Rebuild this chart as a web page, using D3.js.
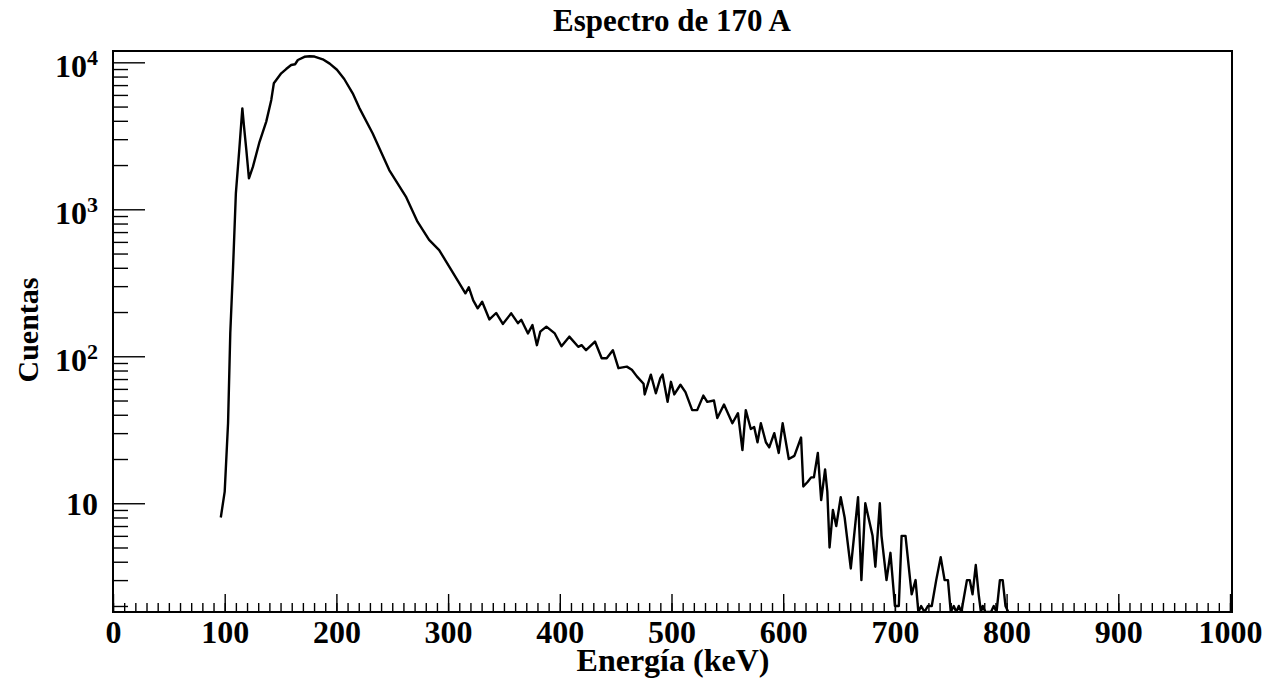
<!DOCTYPE html>
<html>
<head>
<meta charset="utf-8">
<script src="https://cdn.jsdelivr.net/npm/d3@7"></script>
<style>
  html, body { margin: 0; padding: 0; background: #fff; }
  svg { display: block; }
  text { font-family: "Liberation Serif", "Times New Roman", serif; font-weight: bold; fill: #000; }
</style>
</head>
<body>
<svg id="chart" width="1279" height="683"></svg>
<script>
// Energy spectrum, 170 A run: bin centres (keV) and counts per bin
const energy = [
  96.5, 100, 103, 105, 107.5, 110, 113, 115.8, 117.3, 119.4, 121.7, 125.3, 131.2, 137.2, 141.7, 144,
  150.6, 155, 159.5, 163, 165.5, 171.4, 176, 180.4, 187.8, 194, 200.5, 207, 214.6, 220.5, 232.4,
  247.3, 262.2, 272.6, 283, 292, 301, 310, 315.5, 318.5, 322.5, 326.5, 330.5, 337, 343, 349,
  356.5, 362.5, 365.5, 371.5, 375.5, 379.5, 382.5, 388, 395.5, 401.5, 408.5, 416.5, 419.5, 423.5,
  431.5, 437.5, 442, 447.5, 452.5, 460, 464.5, 469, 475, 476, 481.5, 486, 490, 492, 496.5, 499.5,
  502.5, 508, 512.5, 518.5, 523, 528.5, 532, 538, 541, 547, 554.5, 559.5, 563.5, 566.5, 571, 574,
  577, 580, 584.5, 587.5, 592, 596, 599.5, 605, 610, 616, 618, 622, 625, 627.5, 631, 634, 637.5,
  639.5, 641.5, 644.5, 647.5, 651.5, 655, 660.5, 667, 670, 673.5, 680, 682.5, 686.5, 688, 692.5,
  696, 700, 703.5, 706, 709.5, 715, 718.5, 721, 723.5, 726.5, 729.5, 733, 737, 741, 744.5, 747.5,
  750, 752.7, 755, 757.2, 759.5, 764.5, 767, 769.5, 772.4, 775, 777, 778.7, 781, 786, 788.5, 791,
  794, 796.5, 799, 801.5
];
const counts = [
  8, 12, 35, 144, 405, 1285, 2520, 4860, 3650, 2520, 1625, 1950, 2880, 3950, 5550, 7200,
  8420, 9000, 9590, 9700, 10370, 10900, 11000, 10950, 10480, 9800, 8900, 7700, 6150, 4900, 3290,
  1850, 1220, 824, 619, 528, 407, 314, 268, 295, 240, 212, 235, 178, 197, 166,
  196, 168, 177, 143, 163, 119, 147, 159, 143, 117, 136, 116, 119, 110,
  126, 97, 97, 110, 83, 85, 81, 73, 65, 55, 75, 56, 71, 75, 49, 67,
  55, 64, 57, 43, 43, 54, 49, 50, 38, 47, 35, 41, 23, 43, 32, 33,
  26, 35, 26, 24, 30, 22, 35, 20, 21, 28, 13, 14, 15, 15, 22, 10.5, 17,
  12, 5, 9, 7, 11, 8, 3.6, 11, 3, 10, 6, 3.7, 10, 6, 3,
  4.6, 2, 2, 6, 6, 2.4, 3, 0, 2, 0, 2, 2, 3, 4.3, 3, 3,
  0, 2, 0, 2, 0, 3, 3, 2.4, 3.8, 2.4, 0, 2, 0, 0, 2, 0,
  3, 3, 2, 0
];

// Axis ticks
const xMajorTicks = [0, 100, 200, 300, 400, 500, 600, 700, 800, 900, 1000];
const xMinorTicks = d3.range(0, 1001, 10);
const yMajorTicks = [10, 100, 1000, 10000];
const yMajorLabels = [["10", ""], ["10", "2"], ["10", "3"], ["10", "4"]];
const yMinorTicks = [2, 3, 4, 5, 6, 7, 8, 9, 20, 30, 40, 50, 60, 70, 80, 90,
  200, 300, 400, 500, 600, 700, 800, 900, 2000, 3000, 4000, 5000, 6000, 7000, 8000, 9000];

const yMin = 1.82, yMax = 11940;

const frame = { left: 113, right: 1230, top: 51, bottom: 612 };
const svg = d3.select("#chart");

const x = d3.scaleLinear().domain([0, 1000]).range([frame.left, frame.right]);
const y = d3.scaleLog().domain([yMin, yMax]).range([frame.bottom, frame.top]);

svg.append("clipPath").attr("id", "plotArea")
  .append("rect")
  .attr("x", frame.left).attr("y", frame.top)
  .attr("width", frame.right - frame.left + 3).attr("height", frame.bottom - frame.top);

// Spectrum line (empty bins sit on the lower edge of the frame)
const pts = energy.map((e, i) => [e, counts[i]]);
const line = d3.line()
  .x(d => x(d[0]))
  .y(d => y(Math.max(d[1], yMin)));
svg.append("path")
  .datum(pts)
  .attr("clip-path", "url(#plotArea)")
  .attr("fill", "none")
  .attr("stroke", "#000")
  .attr("stroke-width", 2.4)
  .attr("stroke-linejoin", "round")
  .attr("d", line);

// X axis: minor and major ticks pointing into the frame
const xMinor = svg.append("g").attr("transform", `translate(0,${frame.bottom})`)
  .call(d3.axisBottom(x).tickValues(xMinorTicks).tickSize(-9).tickFormat(""));
const xMajor = svg.append("g").attr("transform", `translate(0,${frame.bottom})`)
  .call(d3.axisBottom(x).tickValues(xMajorTicks).tickSize(-18).tickFormat(d3.format("d")));
[xMinor, xMajor].forEach(g => {
  g.select(".domain").remove();
  g.selectAll(".tick line").attr("stroke", "#000").attr("stroke-width", 1.4);
});
xMajor.selectAll(".tick text")
  .attr("y", 31).attr("dy", 0)
  .style("font-size", "32px");

// Y axis: log ticks
const yMinor = svg.append("g").attr("transform", `translate(${frame.left},0)`)
  .call(d3.axisLeft(y).tickValues(yMinorTicks).tickSize(-15).tickFormat(""));
const yMajor = svg.append("g").attr("transform", `translate(${frame.left},0)`)
  .call(d3.axisLeft(y).tickValues(yMajorTicks).tickSize(-32).tickFormat(""));
[yMinor, yMajor].forEach(g => {
  g.select(".domain").remove();
  g.selectAll(".tick line").attr("stroke", "#000").attr("stroke-width", 1.4);
});
yMajor.selectAll(".tick text").each(function(d, i) {
  const lab = yMajorLabels[i];
  const t = d3.select(this)
    .attr("x", -15)
    .attr("dy", 0)
    .attr("y", lab[1] ? 14 : 11)
    .attr("text-anchor", "end")
    .style("font-size", "32px");
  t.append("tspan").text(lab[0]);
  if (lab[1]) {
    t.append("tspan")
      .attr("dy", -12)
      .style("font-size", "22px")
      .text(lab[1]);
  }
});

// Frame
svg.append("rect")
  .attr("x", frame.left).attr("y", frame.top)
  .attr("width", frame.right + 2 - frame.left).attr("height", frame.bottom - frame.top)
  .attr("fill", "none").attr("stroke", "#000").attr("stroke-width", 2);

// Titles
svg.append("text")
  .attr("x", 672).attr("y", 31)
  .attr("text-anchor", "middle")
  .style("font-size", "31px")
  .text("Espectro de 170 A");

svg.append("text")
  .attr("x", 673).attr("y", 671)
  .attr("text-anchor", "middle")
  .style("font-size", "32px")
  .text("Energía (keV)");

svg.append("text")
  .attr("transform", "translate(38,330) rotate(-90)")
  .attr("text-anchor", "middle")
  .style("font-size", "30px")
  .text("Cuentas");
</script>
</body>
</html>
